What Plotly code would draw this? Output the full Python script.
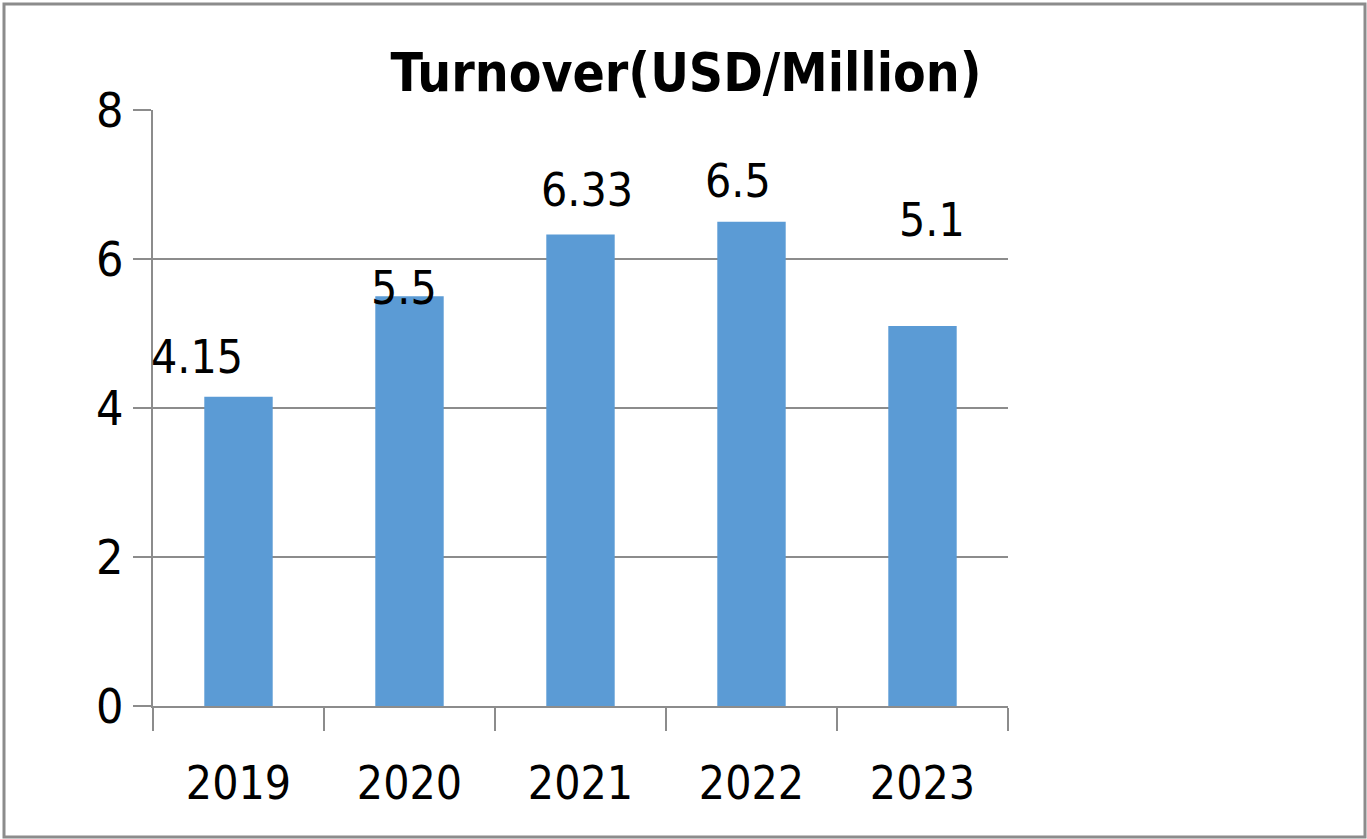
import plotly.graph_objects as go

years = ["2019", "2020", "2021", "2022", "2023"]
turnover = [4.15, 5.5, 6.33, 6.5, 5.1]
label_text = ["4.15", "5.5", "6.33", "6.5", "5.1"]
y_ticks = [0, 2, 4, 6, 8]
title_text = "Turnover(USD/Million)"

# label placement offsets (pixels) relative to bar top centre
label_dx = [-42, -6, 6, -14, 9]
label_dy = [40, 8, 44, 41, 106]

FONT = "DejaVu Sans Condensed, Liberation Sans Narrow, Roboto, sans-serif"
GRID = "#8c8c8c"
W, H = 1367, 839
L, R, T, B = 153, 359, 110, 133
pw, ph = W - L - R, H - T - B

fig = go.Figure()
fig.add_trace(go.Bar(x=years, y=turnover, width=0.4, marker=dict(color="#5B9BD5", line=dict(width=0)),
                     hoverinfo="x+y"))

for i, (v, t, dx, dy) in enumerate(zip(turnover, label_text, label_dx, label_dy)):
    fig.add_annotation(x=i, y=v, text=t, showarrow=False, xanchor="center", yanchor="middle",
                       xshift=dx, yshift=dy, font=dict(family=FONT, size=46, color="black"))

def px_x(x):
    return (x - L) / pw

def px_y(y):
    return (H - B - y) / ph

fig.add_shape(type="rect", xref="paper", yref="paper",
              x0=px_x(4), x1=px_x(1365), y0=px_y(837), y1=px_y(4),
              line=dict(color=GRID, width=3), fillcolor="rgba(0,0,0,0)", layer="below")

fig.update_layout(
    width=W, height=H,
    margin=dict(l=L, r=R, t=T, b=B, autoexpand=False),
    paper_bgcolor="white", plot_bgcolor="white",
    showlegend=False,
    title=dict(text="<b>" + title_text + "</b>", x=px_x(686), xanchor="center", xref="paper",
               y=1 - 72 / H, yanchor="middle", font=dict(family=FONT, size=53, color="black")),
    font=dict(family=FONT, color="black"),
)
fig.update_yaxes(range=[0, 8], tickvals=y_ticks, showgrid=True, gridcolor=GRID, gridwidth=2,
                 showline=True, linecolor=GRID, linewidth=2, ticks="outside", ticklen=18,
                 tickcolor=GRID, tickwidth=2, tickfont=dict(family=FONT, size=48, color="black"),
                 zeroline=False, fixedrange=True)
fig.update_xaxes(type="category", range=[-0.5, len(years) - 0.5], showline=True, linecolor=GRID,
                 linewidth=2, ticks="outside", tickangle=0, ticklabelstandoff=36,
                 tickson="boundaries", ticklen=23, tickcolor=GRID, tickwidth=2,
                 tickfont=dict(family=FONT, size=46, color="black"), showgrid=False, fixedrange=True)

fig.write_html("out.html", config={"displayModeBar": False},
               post_script="document.body.style.margin='0';document.body.style.overflow='hidden';")
